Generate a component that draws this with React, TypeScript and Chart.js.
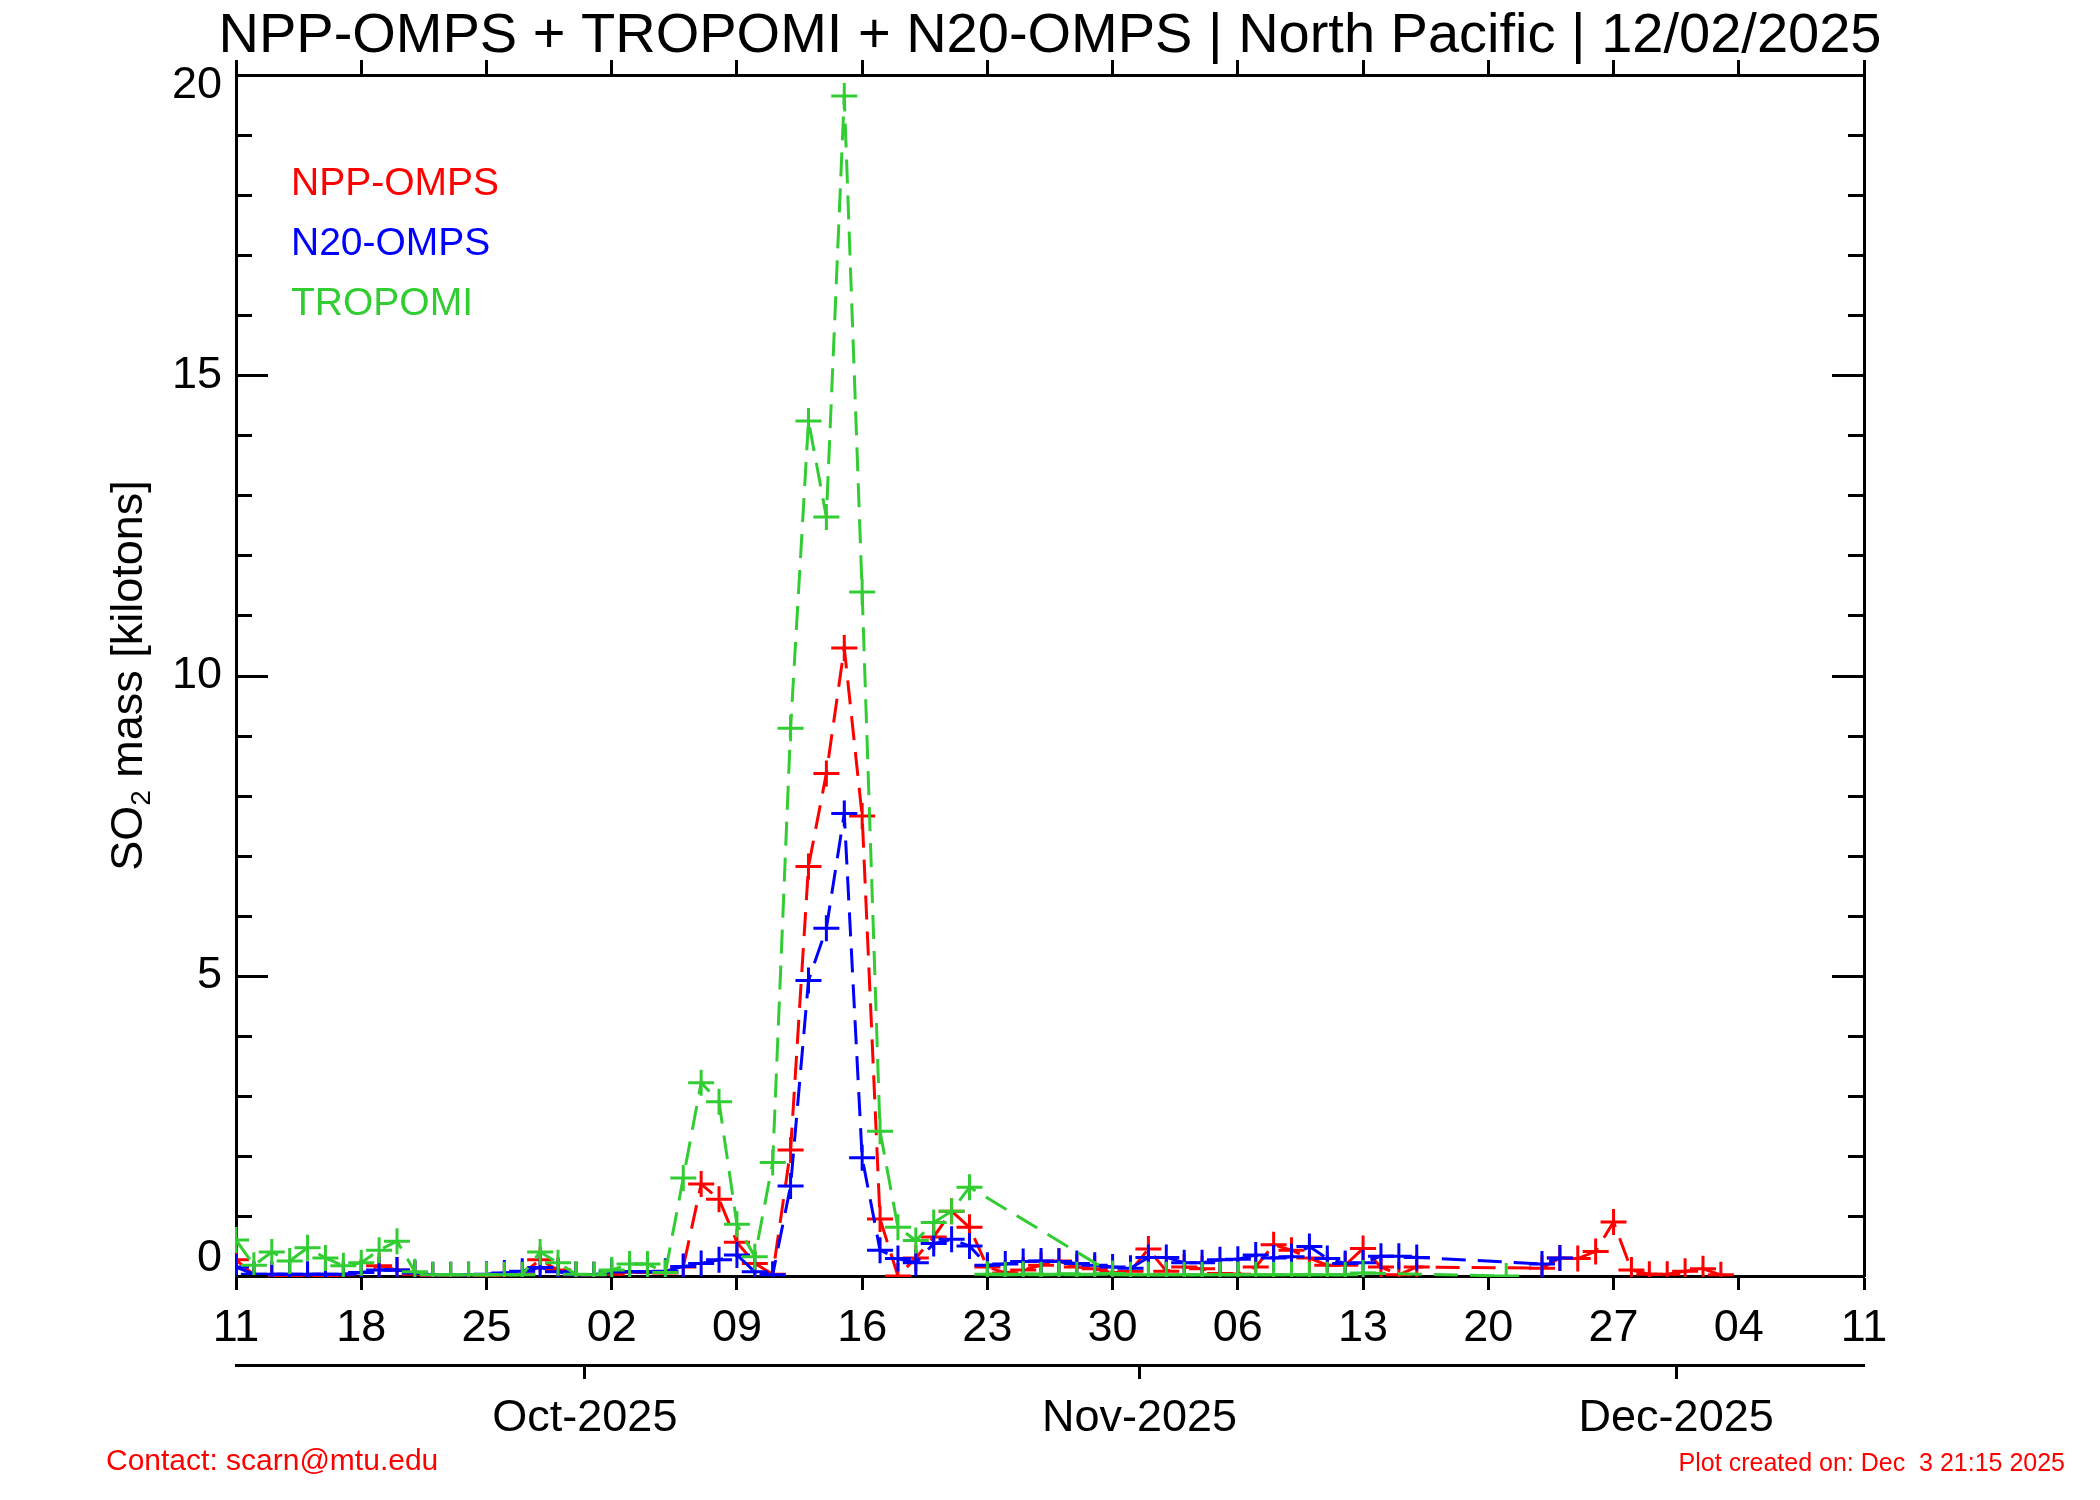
import React, { useEffect, useRef } from 'react';
import { Chart, registerables } from 'chart.js';

Chart.register(...registerables);

const FONT = '"Liberation Sans", Arial, Helvetica, sans-serif';

const titleText = 'NPP-OMPS + TROPOMI + N20-OMPS | North Pacific | 12/02/2025';
const yTitleMain = 'SO';
const yTitleSub = '2';
const yTitleRest = ' mass [kilotons]';
const contactText = 'Contact: scarn@mtu.edu';
const createdText = 'Plot created on: Dec  3 21:15 2025';

const seriesNames = ['NPP-OMPS', 'N20-OMPS', 'TROPOMI'];
const seriesColors = ['#ff0000', '#0000ff', '#32cd32'];

// x = days since 11 Sep 2025
const xMin = 0;
const xMax = 91;
const xTickDays = [0, 7, 14, 21, 28, 35, 42, 49, 56, 63, 70, 77, 84, 91];
const xTickLabels = ['11', '18', '25', '02', '09', '16', '23', '30', '06', '13', '20', '27', '04', '11'];
const monthTickDays = [19.5, 50.5, 80.5];
const monthLabels = ['Oct-2025', 'Nov-2025', 'Dec-2025'];

const yMin = 0;
const yMax = 20;
const yTickValues = [0, 5, 10, 15, 20];
const yMinorStep = 1;
const yMajorStep = 5;

const nppDays = [
  0, 1, 2, 3, 4, 5, 6, 7, 8, 9,
  10, 11, 12, 13, 14, 15, 16, 17, 18, 19,
  20, 21, 22, 23, 24, 25, 26, 27, 28, 29,
  30, 31, 32, 33, 34, 35, 36, 37, 38, 39,
  40, 41, 42, 43, 44, 45, 46, 47, 48, 49,
  50, 51, 52, 53, 54, 55, 56, 57, 58, 59,
  60, 61, 62, 63, 64, 65, 66,
  73, 74, 75, 76, 77, 78, 79, 80, 81, 82, 83,
];
const nppValues = [
  0.27, 0.02, 0.01, 0.01, 0.02, 0.01, 0.02, 0.06, 0.17, 0.1,
  0.03, 0.01, 0.01, 0.02, 0.01, 0.02, 0.03, 0.27, 0.1, 0.02,
  0.02, 0.03, 0.07, 0.06, 0.05, 0.15, 1.53, 1.28, 0.56, 0.21,
  0.03, 2.1, 6.82, 8.37, 10.46, 7.66, 0.95, 0.0, 0.3, 0.65,
  1.08, 0.81, 0.15, 0.05, 0.1, 0.18, 0.25, 0.15, 0.12, 0.05,
  0.08, 0.45, 0.08, 0.15, 0.12, 0.04, 0.03, 0.15, 0.52, 0.43,
  0.3, 0.18, 0.18, 0.46, 0.15, 0.02, 0.15,
  0.13, 0.3, 0.29, 0.41, 0.9, 0.1, 0.03, 0.03, 0.08, 0.12, 0.02,
];

const n20Days = [
  0, 1, 2, 3, 4, 5, 6, 7, 8, 9,
  10, 11, 12, 13, 14, 15, 16, 17, 18, 19,
  20, 21, 22, 23, 24, 25, 26, 27, 28, 29,
  30, 31, 32, 33, 34, 35, 36, 37, 38, 39,
  40, 41, 42, 43, 44, 45, 46, 47, 48, 49,
  50, 51, 52, 53, 54, 55, 56, 57, 58, 59,
  60, 61, 62, 63, 64, 65, 66,
  73, 74,
];
const n20Values = [
  0.15, 0.03, 0.03, 0.03, 0.03, 0.03, 0.03, 0.06, 0.1, 0.1,
  0.05, 0.02, 0.02, 0.02, 0.03, 0.05, 0.08, 0.14, 0.07, 0.02,
  0.02, 0.07, 0.07, 0.07, 0.08, 0.16, 0.21, 0.27, 0.35, 0.07,
  0.02, 1.5, 4.92, 5.79, 7.7, 1.97, 0.43, 0.29, 0.22, 0.54,
  0.61, 0.5, 0.18, 0.2, 0.24, 0.25, 0.24, 0.21, 0.18, 0.15,
  0.13, 0.31, 0.31, 0.22, 0.22, 0.27, 0.28, 0.35, 0.3, 0.32,
  0.49, 0.29, 0.21, 0.22, 0.33, 0.33, 0.31,
  0.2, 0.3,
];

// TROPOMI points in the order they are plotted
const tropomiDays = [
  0, 1, 2, 3, 4, 5, 6, 7, 8, 9,
  10, 11, 12, 13, 14, 15, 16, 17, 18, 19,
  20, 21, 22, 23, 24, 25, 26, 27, 28, 29,
  30, 31, 32, 33, 34, 35, 36, 37, 38, 39,
  40, 41, 49,
  42, 43, 44, 45, 46, 47, 48,
  50, 51, 52, 53, 54, 55, 56, 57, 58, 59, 60, 61, 62, 63,
  71,
];
const tropomiValues = [
  0.6, 0.18, 0.4, 0.25, 0.47, 0.3, 0.17, 0.22, 0.43, 0.58,
  0.07, 0.02, 0.02, 0.02, 0.02, 0.02, 0.02, 0.4, 0.22, 0.03,
  0.02, 0.1, 0.2, 0.2, 0.06, 1.63, 3.22, 2.9, 0.86, 0.32,
  1.89, 9.12, 14.24, 12.64, 19.65, 11.39, 2.41, 0.81, 0.59, 0.89,
  1.08, 1.48, 0.04,
  0.03, 0.02, 0.03, 0.02, 0.03, 0.02, 0.03,
  0.02, 0.02, 0.02, 0.02, 0.02, 0.02, 0.02, 0.02, 0.02, 0.02, 0.02, 0.02, 0.02, 0.05,
  0.0,
];

const toPoints = (days: number[], values: number[]) => days.map((d, i) => ({ x: d, y: values[i] }));

const decorPlugin = {
  id: 'decor',
  afterDraw(chart: any) {
    const { ctx, chartArea: a, scales } = chart;
    const ys = scales.y;
    ctx.save();
    // inward y ticks on both sides
    ctx.strokeStyle = '#000';
    ctx.lineWidth = 3;
    ctx.lineCap = 'butt';
    for (let v = yMin; v <= yMax; v += yMinorStep) {
      const py = Math.round(ys.getPixelForValue(v)) + 0.5;
      const len = v % yMajorStep === 0 ? 32 : 16;
      ctx.beginPath();
      ctx.moveTo(a.left, py);
      ctx.lineTo(a.left + len, py);
      ctx.moveTo(a.right, py);
      ctx.lineTo(a.right - len, py);
      ctx.stroke();
    }

    // title
    ctx.fillStyle = '#000';
    ctx.textBaseline = 'alphabetic';
    ctx.textAlign = 'center';
    ctx.font = `56px ${FONT}`;
    ctx.fillText(titleText, (a.left + a.right) / 2, 52);

    // legend texts
    ctx.textAlign = 'left';
    ctx.font = `39px ${FONT}`;
    seriesNames.forEach((name, i) => {
      ctx.fillStyle = seriesColors[i];
      ctx.fillText(name, a.left + 55, 195 + i * 60);
    });

    // y axis title with subscript
    ctx.save();
    ctx.translate(142, (a.top + a.bottom) / 2);
    ctx.rotate(-Math.PI / 2);
    ctx.fillStyle = '#000';
    ctx.font = `45px ${FONT}`;
    const w1 = ctx.measureText(yTitleMain).width;
    const w3 = ctx.measureText(yTitleRest).width;
    ctx.font = `28px ${FONT}`;
    const w2 = ctx.measureText(yTitleSub).width;
    let x0 = -(w1 + w2 + w3) / 2;
    ctx.font = `45px ${FONT}`;
    ctx.fillText(yTitleMain, x0, 0);
    x0 += w1;
    ctx.font = `28px ${FONT}`;
    ctx.fillText(yTitleSub, x0, 8);
    x0 += w2;
    ctx.font = `45px ${FONT}`;
    ctx.fillText(yTitleRest, x0, 0);
    ctx.restore();

    // footer texts
    ctx.fillStyle = '#ff0000';
    ctx.textAlign = 'left';
    ctx.font = `30px ${FONT}`;
    ctx.fillText(contactText, 106, 1470);
    ctx.textAlign = 'right';
    ctx.font = `25px ${FONT}`;
    ctx.fillText(createdText, 2065, 1471);
    ctx.restore();
  },
};

const axisBorder = { display: true, color: '#000', width: 3 };

export default function App() {
  const canvasRef = useRef<HTMLCanvasElement | null>(null);

  useEffect(() => {
    document.body.style.margin = '0';
    const canvas = canvasRef.current;
    if (!canvas) return;

    const mkSet = (label: string, color: string, days: number[], values: number[], order: number) => ({
      label,
      data: toPoints(days, values),
      borderColor: color,
      backgroundColor: color,
      borderWidth: 3,
      borderDash: [24, 12],
      pointStyle: 'cross',
      pointRadius: 13,
      pointBorderWidth: 3,
      pointBorderColor: color,
      pointBackgroundColor: color,
      pointHoverRadius: 13,
      tension: 0,
      fill: false,
      clip: 1,
      order,
    });

    const chart = new Chart(canvas, {
      type: 'line',
      data: {
        datasets: [
          mkSet(seriesNames[0], seriesColors[0], nppDays, nppValues, 3),
          mkSet(seriesNames[1], seriesColors[1], n20Days, n20Values, 2),
          mkSet(seriesNames[2], seriesColors[2], tropomiDays, tropomiValues, 1),
        ] as any,
      },
      options: {
        animation: false,
        responsive: false,
        devicePixelRatio: 1,
        events: [],
        layout: { padding: { top: 61, left: 0, right: 236, bottom: 25 } },
        plugins: {
          legend: { display: false },
          title: { display: false },
          tooltip: { enabled: false },
        },
        scales: {
          x: {
            type: 'linear',
            position: 'bottom',
            min: xMin,
            max: xMax,
            weight: 0,
            afterBuildTicks: (s: any) => {
              s.ticks = xTickDays.map((v) => ({ value: v }));
            },
            afterFit: (s: any) => {
              s.height = 89;
            },
            border: axisBorder,
            grid: {
              display: true,
              drawOnChartArea: false,
              drawTicks: true,
              tickLength: 14,
              tickWidth: 3,
              tickColor: '#000',
            },
            ticks: {
              autoSkip: false,
              maxRotation: 0,
              padding: 12,
              color: '#000',
              font: { family: FONT, size: 45 },
              callback: (_v: any, i: number) => xTickLabels[i],
            },
          },
          month: {
            type: 'linear',
            position: 'bottom',
            min: xMin,
            max: xMax,
            weight: 1,
            afterBuildTicks: (s: any) => {
              s.ticks = monthTickDays.map((v) => ({ value: v }));
            },
            afterFit: (s: any) => {
              s.height = 110;
            },
            border: axisBorder,
            grid: {
              display: true,
              drawOnChartArea: false,
              drawTicks: true,
              tickLength: 14,
              tickWidth: 3,
              tickColor: '#000',
            },
            ticks: {
              autoSkip: false,
              maxRotation: 0,
              padding: 13,
              color: '#000',
              font: { family: FONT, size: 45 },
              callback: (_v: any, i: number) => monthLabels[i],
            },
          },
          xTop: {
            type: 'linear',
            position: 'top',
            min: xMin,
            max: xMax,
            afterBuildTicks: (s: any) => {
              s.ticks = xTickDays.map((v) => ({ value: v }));
            },
            afterFit: (s: any) => {
              s.height = 14;
            },
            border: axisBorder,
            grid: {
              display: true,
              drawOnChartArea: false,
              drawTicks: true,
              tickLength: 15,
              tickWidth: 3,
              tickColor: '#000',
            },
            ticks: { display: false },
          },
          y: {
            type: 'linear',
            position: 'left',
            min: yMin,
            max: yMax,
            afterBuildTicks: (s: any) => {
              s.ticks = yTickValues.map((v) => ({ value: v }));
            },
            afterFit: (s: any) => {
              s.width = 236;
            },
            border: axisBorder,
            grid: { display: false, drawTicks: false },
            ticks: {
              padding: 14,
              color: '#000',
              font: (c: any) => {
                const v = c.tick ? c.tick.value : null;
                return {
                  family: FONT,
                  size: 45,
                  lineHeight: v === yMax ? '22px' : v === yMin ? '34px' : 1.2,
                };
              },
              callback: (v: any) => {
                if (v === yMax) return ['', String(v)];
                if (v === yMin) return [String(v), ''];
                return String(v);
              },
            },
          },
          yRight: {
            type: 'linear',
            position: 'right',
            min: yMin,
            max: yMax,
            afterFit: (s: any) => {
              s.width = 0;
            },
            border: axisBorder,
            grid: { display: false, drawTicks: false },
            ticks: { display: false },
          },
        },
      } as any,
      plugins: [decorPlugin],
    });

    return () => {
      chart.destroy();
    };
  }, []);

  return (
    <div style={{ width: 2100, height: 1500, background: '#fff' }}>
      <canvas ref={canvasRef} width={2100} height={1500} style={{ display: 'block' }} />
    </div>
  );
}
